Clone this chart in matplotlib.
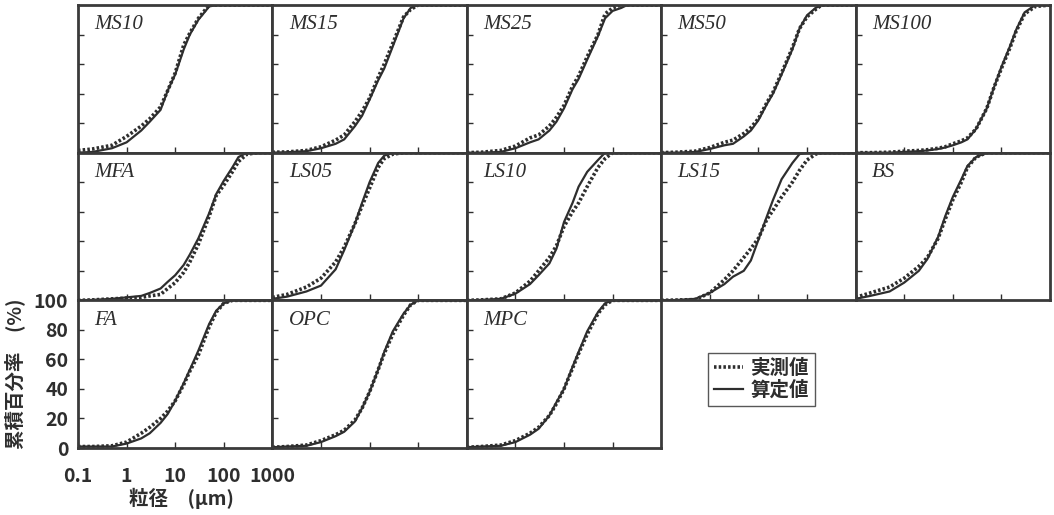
import numpy as np
import matplotlib
matplotlib.use("Agg")
import matplotlib.pyplot as plt
from matplotlib.lines import Line2D

plt.rcParams['font.family'] = ['Noto Sans CJK JP', 'DejaVu Sans']

# particle size grid (um) shared by all panels
sizes = [0.1, 0.2, 0.5, 1, 2, 3, 5, 7, 10, 15, 20, 30, 50, 70, 100, 150, 200, 300, 500, 1000]

names = ['MS10', 'MS15', 'MS25', 'MS50', 'MS100',
         'MFA', 'LS05', 'LS10', 'LS15', 'BS',
         'FA', 'OPC', 'MPC']

# measured (dotted) cumulative %
measured = {
    'MS10':  [1.5, 2.5, 5, 11, 18, 23, 31, 42, 54, 73, 81, 91, 100, 100, 100, 100, 100, 100, 100, 100],
    'MS15':  [0.3, 0.5, 1.5, 4, 8.5, 12, 21, 28, 37, 51, 60, 74, 92, 97, 100, 100, 100, 100, 100, 100],
    'MS25':  [0, 0.3, 1.5, 4.5, 10, 12, 18, 24, 32, 45, 52, 65, 80, 94, 98, 100, 100, 100, 100, 100],
    'MS50':  [0, 0.3, 1, 3.5, 7, 8.5, 13, 17, 23, 34, 41, 54, 71, 84, 92, 97, 100, 100, 100, 100],
    'MS100': [0, 0, 0.3, 1, 1.5, 2, 3, 4, 6, 8, 10, 16, 30, 44, 57, 71, 82, 94, 99, 100],
    'MFA':   [0, 0.3, 1, 1.5, 2, 3, 4, 8, 12, 19, 26, 38, 57, 71, 78, 87, 94, 99, 100, 100],
    'LS05':  [2, 4, 9, 15, 26, 36, 52, 64, 76, 90, 96, 99, 100, 100, 100, 100, 100, 100, 100, 100],
    'LS10':  [0, 0.3, 1, 5, 13, 20, 29, 37, 50, 60, 66, 77, 90, 96, 100, 100, 100, 100, 100, 100],
    'LS15':  [0, 0.2, 0.5, 5, 14, 20, 29, 35, 42, 55, 61, 70, 80, 88, 95, 99, 100, 100, 100, 100],
    'BS':    [2, 5, 9, 15, 23, 29, 42, 55, 68, 80, 90, 97, 100, 100, 100, 100, 100, 100, 100, 100],
    'FA':    [1, 1, 1.5, 4, 10, 14, 20, 25, 32, 43, 52, 63, 82, 92, 98, 100, 100, 100, 100, 100],
    'OPC':   [0.5, 1, 2, 5, 9, 12, 19, 27, 38, 53, 64, 77, 90, 97, 100, 100, 100, 100, 100, 100],
    'MPC':   [0.5, 1, 2, 5, 10, 14, 22, 30, 40, 54, 64, 77, 91, 97, 100, 100, 100, 100, 100, 100],
}

# calculated (solid) cumulative %
calculated = {
    'MS10':  [0, 0.5, 3, 7, 15, 21, 29, 42, 53, 70, 80, 90, 99, 100, 100, 100, 100, 100, 100, 100],
    'MS15':  [0, 0.3, 1, 3, 6, 9, 18, 25, 36, 49, 57, 72, 91, 98, 100, 100, 100, 100, 100, 100],
    'MS25':  [0, 0, 0.5, 3, 7, 9, 15, 21, 30, 43, 50, 63, 79, 91, 96, 98, 100, 100, 100, 100],
    'MS50':  [0, 0, 0.5, 2.5, 5, 6, 11, 15, 22, 33, 40, 53, 70, 84, 93, 98, 100, 100, 100, 100],
    'MS100': [0, 0, 0, 0.5, 1, 1.5, 2.5, 3.5, 5, 7, 9, 16, 30, 44, 58, 72, 83, 95, 100, 100],
    'MFA':   [0, 0.3, 1, 2, 3, 5, 8, 12.5, 17, 24, 31, 42, 59, 72, 81, 90, 97, 100, 100, 100],
    'LS05':  [1, 2.5, 6, 10, 21, 34, 52, 66, 80, 93, 98, 100, 100, 100, 100, 100, 100, 100, 100, 100],
    'LS10':  [0, 0.3, 1, 4.5, 11, 17, 25, 35, 53, 66, 77, 87, 95, 100, 100, 100, 100, 100, 100, 100],
    'LS15':  [0, 0.2, 1, 5, 11, 16, 20, 27, 41, 57, 68, 82, 93, 99, 100, 100, 100, 100, 100, 100],
    'BS':    [1, 3, 6, 12, 20, 28, 43, 57, 70, 82, 91, 97, 100, 100, 100, 100, 100, 100, 100, 100],
    'FA':    [1, 1, 1, 3, 6.5, 10, 17, 23, 32, 44, 53, 66, 84, 93, 98, 100, 100, 100, 100, 100],
    'OPC':   [0.5, 1, 1.5, 4, 8, 11, 18, 27, 38, 53, 65, 79, 91, 97, 100, 100, 100, 100, 100, 100],
    'MPC':   [0.5, 1, 1.5, 4, 9, 13, 22, 31, 40, 55, 65, 79, 92, 98, 100, 100, 100, 100, 100, 100],
}

ytick_vals = [0, 20, 40, 60, 80, 100]
xtick_vals = [0.1, 1, 10, 100, 1000]
xtick_labels = ['0.1', '1', '10', '100', '1000']

W, H = 1054, 515
fig = plt.figure(figsize=(W / 100, H / 100), dpi=100)
fig.patch.set_facecolor('white')

ink = '#2e2e2e'
dotted = (0, (0.7, 0.6))
left0, top0 = 78, 5
pw, ph = 972 / 5, 443 / 3

for i, name in enumerate(names):
    r, c = divmod(i, 5)
    x0 = left0 + c * pw
    y0 = top0 + r * ph
    ax = fig.add_axes([x0 / W, 1 - (y0 + ph) / H, pw / W, ph / H])
    ax.set_xscale('log')
    ax.set_xlim(0.1, 1000)
    ax.set_ylim(0, 100)
    ax.plot(sizes, measured[name], color=ink, lw=2.6, ls=dotted,
            dash_capstyle='butt')
    ax.plot(sizes, calculated[name], color=ink, lw=1.6)
    for s in ax.spines.values():
        s.set_linewidth(2.0)
        s.set_color('#3a3a3a')
    ax.set_xticks([1, 10, 100])
    ax.set_xticks([], minor=True)
    ax.set_yticks([20, 40, 60, 80])
    ax.tick_params(direction='in', length=4.5, width=1, color=ink,
                   labelbottom=False, labelleft=False)
    ax.text(0.085, 0.865, name, transform=ax.transAxes, fontsize=15,
            family='Liberation Serif', style='italic', color=ink, va='center')
    if name == 'FA':
        ax.set_yticks(ytick_vals)
        ax.set_yticklabels([str(v) for v in ytick_vals])
        ax.set_xticks(xtick_vals)
        ax.set_xticklabels(xtick_labels)
        ax.tick_params(axis='y', labelleft=True, labelsize=14,
                       labelcolor=ink, pad=7)
        ax.tick_params(axis='x', labelbottom=True, labelsize=14,
                       labelcolor=ink, pad=14)
        for lab in ax.get_xticklabels() + ax.get_yticklabels():
            lab.set_fontweight('bold')
        ax.set_ylabel('累積百分率\u3000(%)', fontsize=14, fontweight='bold',
                      color=ink)
        ax.set_xlabel('粒径\u3000(μm)', fontsize=14, fontweight='bold',
                      color=ink)
        ax.yaxis.set_label_coords(-0.27, 0.5)
        ax.xaxis.set_label_coords(0.53, -0.27)

handles = [Line2D([], [], color=ink, lw=2.6, ls=dotted),
           Line2D([], [], color=ink, lw=1.6)]
leg = fig.legend(handles, ['実測値', '算定値'], loc='upper left',
                 bbox_to_anchor=(698 / W, 1 - 343 / H), frameon=True,
                 fancybox=False, edgecolor=ink, handlelength=1.5,
                 handletextpad=0.4, borderpad=0.3, labelspacing=0.15,
                 prop={'family': 'Noto Sans CJK JP', 'weight': 'bold', 'size': 14})
leg.get_frame().set_linewidth(1.0)
for t in leg.get_texts():
    t.set_color(ink)

fig.savefig('out.png', dpi=100, facecolor='white')
